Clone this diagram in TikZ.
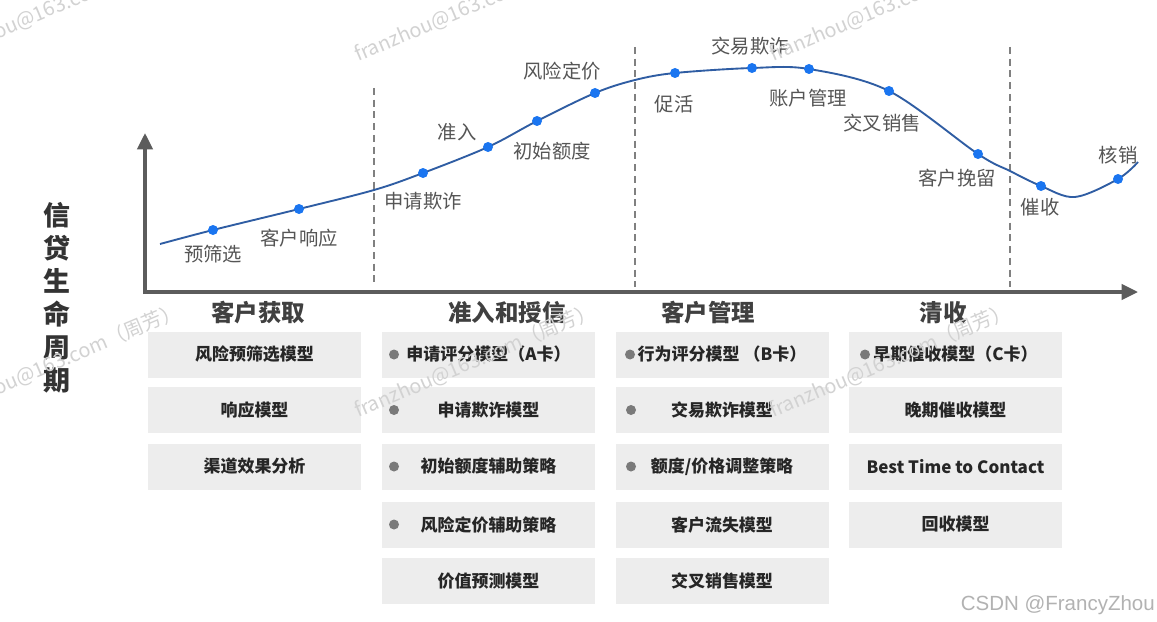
\documentclass[tikz,border=0pt]{standalone}
\usepackage{fontspec}
\setmainfont{Noto Sans CJK SC}
\newfontfamily\csdnfont{Liberation Sans}
\usetikzlibrary{arrows.meta}
\definecolor{curveblue}{HTML}{2F5DA3}
\definecolor{dotblue}{HTML}{1A75F0}
\definecolor{axisgray}{HTML}{5C5C5C}
\definecolor{boxgray}{HTML}{EDEDED}
\definecolor{labgray}{HTML}{555555}
\definecolor{bulgray}{HTML}{7A7A7A}
\definecolor{wmgray}{HTML}{D2D2D2}
\tikzset{
  axisline/.style={draw=axisgray,line width=3pt,-{Triangle[length=14pt,width=13pt]}},
  sepline/.style={draw=gray,line width=1.2pt,dash pattern=on 6pt off 4pt},
  dotnode/.style={circle,fill=dotblue,inner sep=0pt,minimum size=0.3cm},
  curvelab/.style={text=labgray,font=\fontsize{16.5}{20}\selectfont,inner sep=0pt},
  phasetitle/.style={text=black!75,font=\fontsize{20}{24}\selectfont\bfseries,inner sep=0pt},
  mbox/.style={fill=boxgray,minimum width=6.39cm,minimum height=1.38cm,inner sep=0pt,
    text=black!85,font=\fontsize{14.5}{17}\selectfont\bfseries},
  bul/.style={circle,fill=bulgray,inner sep=0pt,minimum size=0.3cm},
  wm/.style={text=wmgray,font=\fontsize{17}{20}\selectfont,anchor=base west,rotate=23,inner sep=0pt}
}
\begin{document}
\begin{tikzpicture}[x=0.03cm,y=-0.03cm]
\useasboundingbox (0,0) rectangle (1157,622);
\fill[white] (0,0) rectangle (1157,622);

% y-axis title
\node[text=black!80,font=\fontsize{23}{28.2}\selectfont\bfseries,align=center,inner sep=0pt] (ytitle) at (57,297.5) {信\\贷\\生\\命\\周\\期};

% axes
\coordinate (origin) at (145,292);
\coordinate (ytip) at (145,133);
\coordinate (xtip) at (1138,292);
\draw[axisline] (145,294) -- (ytip);
\draw[axisline] (143.5,292) -- (xtip);

% phase separators
\coordinate (s1t) at (374,88);  \coordinate (s1b) at (374,287);
\coordinate (s2t) at (635,47);  \coordinate (s2b) at (635,287);
\coordinate (s3t) at (1010,47); \coordinate (s3b) at (1010,287);
\draw[sepline] (s1t) -- (s1b);
\draw[sepline] (s2t) -- (s2b);
\draw[sepline] (s3t) -- (s3b);

% curve
\draw[curveblue,line width=1.6pt] plot[smooth,tension=0.55] coordinates {
 (160,244) (213,230) (299,209) (374,190) (423,173) (488,147) (537,121) (595,93)
 (635,80) (675,73) (752,68) (809,69) (889,91) (978,154) (1010,171) (1041,186)
 (1075,197) (1118,179) (1138,162)};

% dots
\node[dotnode] (d1) at (213,230) {};
\node[dotnode] (d2) at (299,209) {};
\node[dotnode] (d3) at (423,173) {};
\node[dotnode] (d4) at (488,147) {};
\node[dotnode] (d5) at (537,121) {};
\node[dotnode] (d6) at (595,93) {};
\node[dotnode] (d7) at (675,73) {};
\node[dotnode] (d8) at (752,68) {};
\node[dotnode] (d9) at (809,69) {};
\node[dotnode] (d10) at (889,91) {};
\node[dotnode] (d11) at (978,154) {};
\node[dotnode] (d12) at (1041,186) {};
\node[dotnode] (d13) at (1118,179) {};

% curve labels
\node[curvelab] (l1) at (213,254) {预筛选};
\node[curvelab] (l2) at (299,238) {客户响应};
\node[curvelab] (l3) at (423,201) {申请欺诈};
\node[curvelab] (l4) at (457,132) {准入};
\node[curvelab] (l5) at (552,151) {初始额度};
\node[curvelab] (l6) at (562,71) {风险定价};
\node[curvelab] (l7) at (674,104) {促活};
\node[curvelab] (l8) at (750,46) {交易欺诈};
\node[curvelab] (l9) at (808,98) {账户管理};
\node[curvelab] (l10) at (882,123) {交叉销售};
\node[curvelab] (l11) at (957,178) {客户挽留};
\node[curvelab] (l12) at (1040,207) {催收};
\node[curvelab] (l13) at (1118,155) {核销};

% phase titles
\node[phasetitle] (p1) at (258,313) {客户获取};
\node[phasetitle] (p2) at (507,313) {准入和授信};
\node[phasetitle] (p3) at (708,313) {客户管理};
\node[phasetitle] (p4) at (943,313) {清收};

% boxes column 1
\node[mbox] (a1) at (254.5,354.5) {风险预筛选模型};
\node[mbox] (a2) at (254.5,410) {响应模型};
\node[mbox] (a3) at (254.5,466.5) {渠道效果分析};

% column 2
\node[mbox] (b1) at (488.5,354.5) {申请评分模型（A卡）};
\node[mbox] (b2) at (488.5,410) {申请欺诈模型};
\node[mbox] (b3) at (488.5,466.5) {初始额度辅助策略};
\node[mbox] (b4) at (488.5,524.5) {风险定价辅助策略};
\node[mbox] (b5) at (488.5,581) {价值预测模型};

% column 3
\node[mbox] (c1) at (722,354.5) {行为评分模型 （B卡）};
\node[mbox] (c2) at (722,410) {交易欺诈模型};
\node[mbox] (c3) at (722,466.5) {额度/价格调整策略};
\node[mbox] (c4) at (722,524.5) {客户流失模型};
\node[mbox] (c5) at (722,581) {交叉销售模型};

% column 4
\node[mbox] (e1) at (955.5,354.5) {早期催收模型（C卡）};
\node[mbox] (e2) at (955.5,410) {晚期催收模型};
\node[mbox] (e3) at (955.5,466.5) {Best Time to Contact};
\node[mbox] (e4) at (955.5,524.5) {回收模型};

% bullets
\node[bul] (bb1) at (394,354.5) {};
\node[bul] (bb2) at (394,410) {};
\node[bul] (bb3) at (394,466.5) {};
\node[bul] (bb4) at (394,524.5) {};
\node[bul] (cb1) at (630,354.5) {};
\node[bul] (cb2) at (631,410) {};
\node[bul] (cb3) at (631,466.5) {};
\node[bul] (eb1) at (865,354.5) {};

% watermarks
\begin{scope}
\clip (0,0) rectangle (1157,622);
\node[wm] (w1) at (-57,62) {franzhou@163.com（周芳）};
\node[wm] (w2) at (358,62) {franzhou@163.com（周芳）};
\node[wm] (w3) at (773,62) {franzhou@163.com（周芳）};
\node[wm] (w4) at (-57,418) {franzhou@163.com（周芳）};
\node[wm] (w5) at (358,418) {franzhou@163.com（周芳）};
\node[wm] (w6) at (773,418) {franzhou@163.com（周芳）};
\end{scope}

\node[text=black!30,font=\csdnfont\fontsize{17.5}{20}\selectfont,anchor=base east,inner sep=0pt] (csdn) at (1155,610) {CSDN @FrancyZhou};
\end{tikzpicture}
\end{document}
